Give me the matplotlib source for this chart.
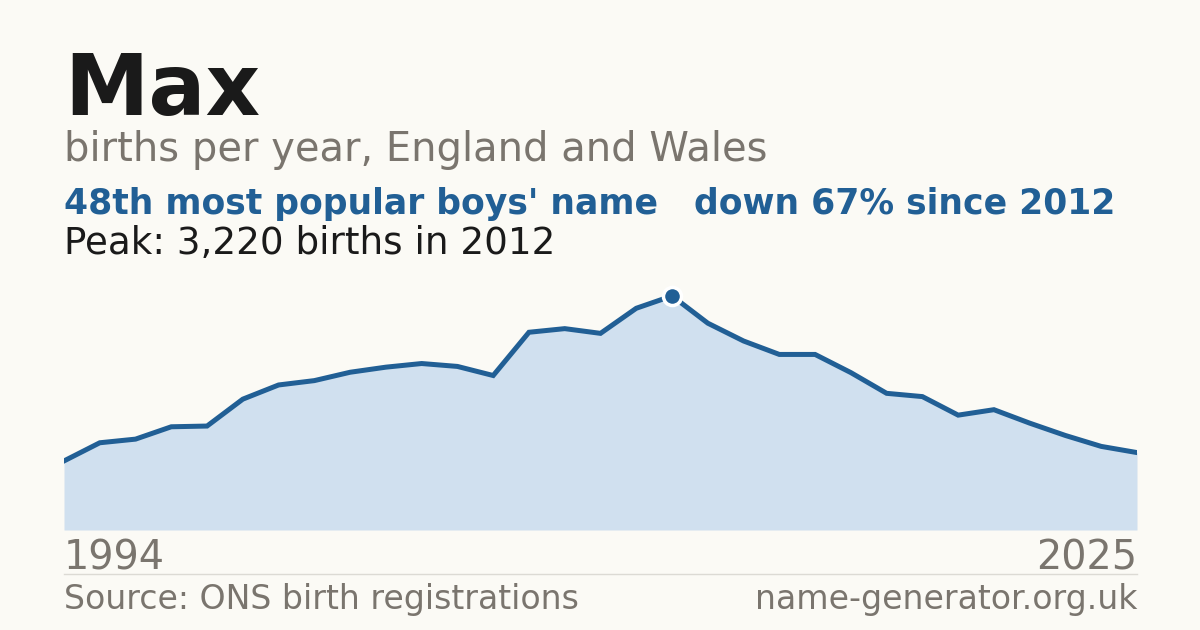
import matplotlib
matplotlib.use("Agg")
import matplotlib.pyplot as plt

# Births per year for the name Max (ONS: 1994, then 1996 onwards)
years = [1994] + list(range(1996, 2026))
births = [950, 1200, 1250, 1420, 1430, 1800, 1995, 2055, 2170, 2240, 2290, 2250,
          2125, 2720, 2770, 2705, 3050, 3220, 2845, 2600, 2415, 2415, 2165, 1880,
          1835, 1580, 1655, 1470, 1300, 1150, 1065]

bg = "#fbfaf5"
blue = "#215f95"
fill_col = "#d0e0ef"
grey = "#7a756e"
dark = "#1a1a1a"

W, H = 1200, 630
fig = plt.figure(figsize=(12, 6.3), dpi=100, facecolor=bg)

def fy(px):
    # pixel y from top -> figure fraction
    return 1 - px / H

# chart area
left, right, top, bottom = 64, 1137, 280, 530
ax = fig.add_axes([left / W, fy(bottom), (right - left) / W, (bottom - top) / H])
ax.set_facecolor(bg)
xs = list(range(len(years)))
ax.fill_between(xs, births, 0, color=fill_col, lw=0)
ax.plot(xs, births, color=blue, lw=3.6, solid_joinstyle="miter")
peak_i = births.index(max(births))
ax.plot(xs[peak_i], births[peak_i], "o", ms=13, color=blue, mec="white", mew=2.5, zorder=5)
ax.set_xlim(0, len(years) - 1)
ax.set_ylim(0, max(births) * 1.068)
ax.axis("off")

# header text
fig.text(64 / W, fy(115), "Max", fontsize=61, fontweight="bold", color=dark)
fig.text(64 / W, fy(161), "births per year, England and Wales", fontsize=28.8, color=grey)
fig.text(64 / W, fy(214), "48th most popular boys' name", fontsize=24.9, fontweight="bold", color=blue)
fig.text(694 / W, fy(214), "down 67% since 2012", fontsize=24.9, fontweight="bold", color=blue)
fig.text(64 / W, fy(254), f"Peak: {max(births):,} births in {years[peak_i]}", fontsize=26.8, color=dark)

# year labels
fig.text(64 / W, fy(570), str(years[0]), fontsize=28.6, color=grey)
fig.text(1137 / W, fy(570), str(years[-1]), fontsize=28.6, color=grey, ha="right")

# separator + footer
fig.add_artist(plt.Line2D([64 / W, 1137 / W], [fy(574), fy(574)], color="#dcdad4", lw=1))
fig.text(64 / W, fy(609), "Source: ONS birth registrations", fontsize=23.9, color=grey)
fig.text(1137 / W, fy(609), "name-generator.org.uk", fontsize=23.9, color=grey, ha="right")

fig.savefig("out.png", dpi=100, facecolor=bg)
